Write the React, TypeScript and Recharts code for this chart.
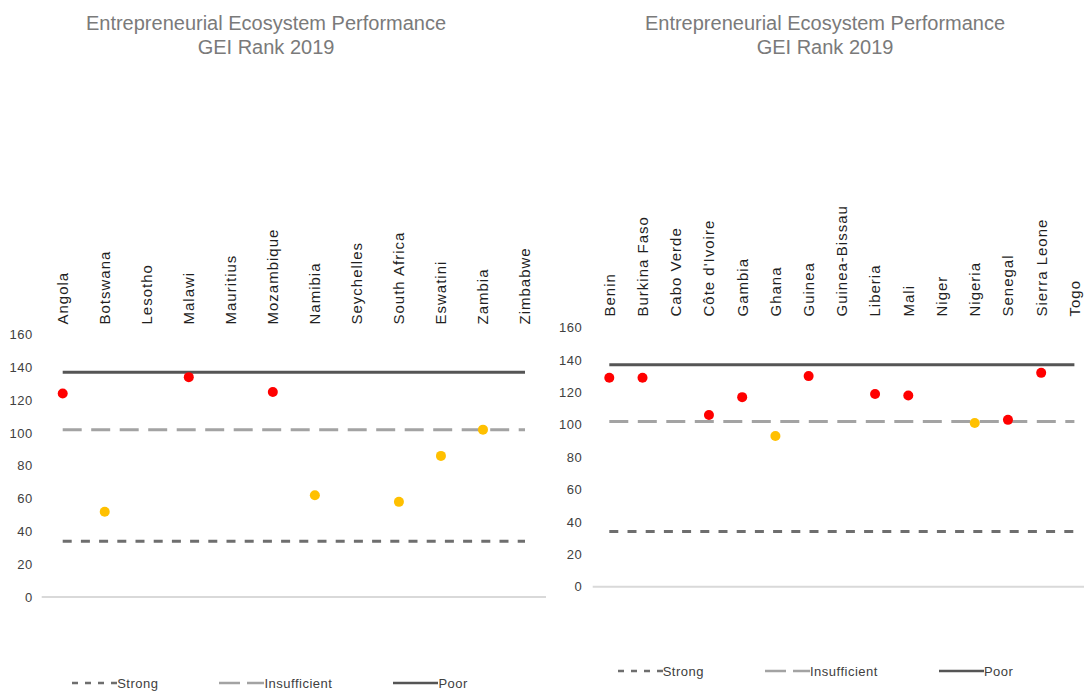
import React from 'react';
import { ComposedChart, Line, XAxis, YAxis, ReferenceLine, Legend } from 'recharts';

// ---------- Data ----------
const leftCategories = ['Angola', 'Botswana', 'Lesotho', 'Malawi', 'Mauritius', 'Mozambique', 'Namibia', 'Seychelles', 'South Africa', 'Eswatini', 'Zambia', 'Zimbabwe'];
const leftRed = [124, null, null, 134, null, 125, null, null, null, null, null, null];
const leftOrange = [null, 52, null, null, null, null, 62, null, 58, 86, 102, null];
const leftStrong = [34, 34, 34, 34, 34, 34, 34, 34, 34, 34, 34, 34];
const leftInsufficient = [102, 102, 102, 102, 102, 102, 102, 102, 102, 102, 102, 102];
const leftPoor = [137, 137, 137, 137, 137, 137, 137, 137, 137, 137, 137, 137];

const rightCategories = ['Benin', 'Burkina Faso', 'Cabo Verde', "Côte d'Ivoire", 'Gambia', 'Ghana', 'Guinea', 'Guinea-Bissau', 'Liberia', 'Mali', 'Niger', 'Nigeria', 'Senegal', 'Sierra Leone', 'Togo'];
const rightRed = [129, 129, null, 106, 117, null, 130, null, 119, 118, null, null, 103, 132, null];
const rightOrange = [null, null, null, null, null, 93, null, null, null, null, null, 101, null, null, null];
const rightStrong = [34, 34, 34, 34, 34, 34, 34, 34, 34, 34, 34, 34, 34, 34, 34];
const rightInsufficient = [102, 102, 102, 102, 102, 102, 102, 102, 102, 102, 102, 102, 102, 102, 102];
const rightPoor = [137, 137, 137, 137, 137, 137, 137, 137, 137, 137, 137, 137, 137, 137, 137];

const yTicks = [0, 20, 40, 60, 80, 100, 120, 140, 160];
const titleLines = ['Entrepreneurial Ecosystem Performance', 'GEI Rank 2019'];
const legendOrder = ['Strong', 'Insufficient', 'Poor'];

function buildRows(cats, red, orange, strong, insufficient, poor) {
  return cats.map((name, i) => ({
    name,
    red: red[i],
    orange: orange[i],
    strong: strong[i],
    insufficient: insufficient[i],
    poor: poor[i],
  }));
}

const leftData = buildRows(leftCategories, leftRed, leftOrange, leftStrong, leftInsufficient, leftPoor);
const rightData = buildRows(rightCategories, rightRed, rightOrange, rightStrong, rightInsufficient, rightPoor);

// ---------- Styles ----------
const FONT = '"Liberation Sans", Arial, sans-serif';
const STRONG_COLOR = '#6e6e6e';
const INSUFF_COLOR = '#a3a3a3';
const POOR_COLOR = '#555555';
const RED = '#FF0000';
const ORANGE = '#FFC000';

const legendDash = { Strong: '6 7', Insufficient: '21 7', Poor: undefined };

const CategoryTick = (props) => {
  const { x, y, payload } = props;
  return (
    <text
      x={x}
      y={y}
      transform={`rotate(-90, ${x}, ${y})`}
      textAnchor="start"
      dy="0.36em"
      fontSize={15}
      letterSpacing={1}
      fontFamily={FONT}
      fill="#1f1f1f"
    >
      {payload.value}
    </text>
  );
};

const LegendContent = (props) => {
  const items = (props.payload || [])
    .filter((p) => legendOrder.includes(p.value))
    .sort((a, b) => legendOrder.indexOf(a.value) - legendOrder.indexOf(b.value));
  return (
    <div style={{ display: 'flex', justifyContent: 'center', alignItems: 'center', height: 18, gap: 61 }}>
      {items.map((entry) => (
        <div key={entry.value} style={{ display: 'flex', alignItems: 'center' }}>
          <svg width={45} height={10} style={{ display: 'block' }}>
            <line
              x1={0}
              y1={5}
              x2={45}
              y2={5}
              stroke={entry.color}
              strokeWidth={2.5}
              strokeDasharray={legendDash[entry.value]}
            />
          </svg>
          <span style={{ fontFamily: FONT, fontSize: 13, letterSpacing: 0.5, color: '#404040' }}>{entry.value}</span>
        </div>
      ))}
    </div>
  );
};

function GeiChart({ data, width, height, margin, yWidth, yTickMargin, xTickMargin, xPad, legendTop, legendWidth }) {
  return (
    <ComposedChart width={width} height={height} data={data} margin={margin}>
      <XAxis
        dataKey="name"
        orientation="top"
        axisLine={false}
        tickLine={false}
        tickSize={0}
        tickMargin={xTickMargin}
        height={10}
        interval={0}
        padding={{ left: xPad, right: xPad }}
        tick={CategoryTick}
      />
      <YAxis
        domain={[0, 160]}
        ticks={yTicks}
        axisLine={false}
        tickLine={false}
        tickSize={0}
        tickMargin={yTickMargin}
        width={yWidth}
        tick={{ fontSize: 13, fill: '#404040', fontFamily: FONT, letterSpacing: 0.5 }}
      />
      <ReferenceLine y={0} stroke="#d9d9d9" strokeWidth={2} />
      <Line
        dataKey="strong"
        name="Strong"
        stroke={STRONG_COLOR}
        strokeWidth={3}
        strokeDasharray="9 9.2"
        dot={false}
        activeDot={false}
        isAnimationActive={false}
        legendType="line"
      />
      <Line
        dataKey="insufficient"
        name="Insufficient"
        stroke={INSUFF_COLOR}
        strokeWidth={3}
        strokeDasharray="19 9.5"
        dot={false}
        activeDot={false}
        isAnimationActive={false}
        legendType="line"
      />
      <Line
        dataKey="poor"
        name="Poor"
        stroke={POOR_COLOR}
        strokeWidth={3}
        dot={false}
        activeDot={false}
        isAnimationActive={false}
        legendType="line"
      />
      <Line
        dataKey="red"
        stroke="none"
        legendType="none"
        dot={{ r: 5, fill: RED, stroke: 'none' }}
        activeDot={false}
        isAnimationActive={false}
      />
      <Line
        dataKey="orange"
        stroke="none"
        legendType="none"
        dot={{ r: 5, fill: ORANGE, stroke: 'none' }}
        activeDot={false}
        isAnimationActive={false}
      />
      <Legend
        layout="horizontal"
        align="center"
        verticalAlign="middle"
        content={LegendContent}
        wrapperStyle={{ top: legendTop, left: 0, width: legendWidth, height: 18 }}
      />
    </ComposedChart>
  );
}

const Title = ({ center }) => (
  <div
    style={{
      position: 'absolute',
      top: 11,
      left: center - 250,
      width: 500,
      textAlign: 'center',
      fontFamily: FONT,
      fontSize: 20,
      lineHeight: '24px',
      color: '#7a7a7a',
    }}
  >
    {titleLines.map((t) => (
      <div key={t}>{t}</div>
    ))}
  </div>
);

export default function App() {
  return (
    <div
      style={{
        position: 'absolute',
        left: 0,
        top: 0,
        width: 1084,
        height: 693,
        overflow: 'hidden',
        background: '#ffffff',
      }}
    >
      <div style={{ position: 'absolute', left: 0, top: 0 }}>
        <GeiChart
          data={leftData}
          width={546}
          height={693}
          margin={{ top: 324.5, right: 0, bottom: 96, left: 0 }}
          yWidth={41.7}
          yTickMargin={9}
          xTickMargin={10}
          xPad={21}
          legendTop={674}
          legendWidth={540}
        />
      </div>
      <div style={{ position: 'absolute', left: 545, top: 0 }}>
        <GeiChart
          data={rightData}
          width={546}
          height={693}
          margin={{ top: 317.5, right: 0, bottom: 106.3, left: 0 }}
          yWidth={47.7}
          yTickMargin={10.5}
          xTickMargin={11}
          xPad={16.6}
          legendTop={662}
          legendWidth={541}
        />
      </div>
      <Title center={266} />
      <Title center={825} />
    </div>
  );
}
